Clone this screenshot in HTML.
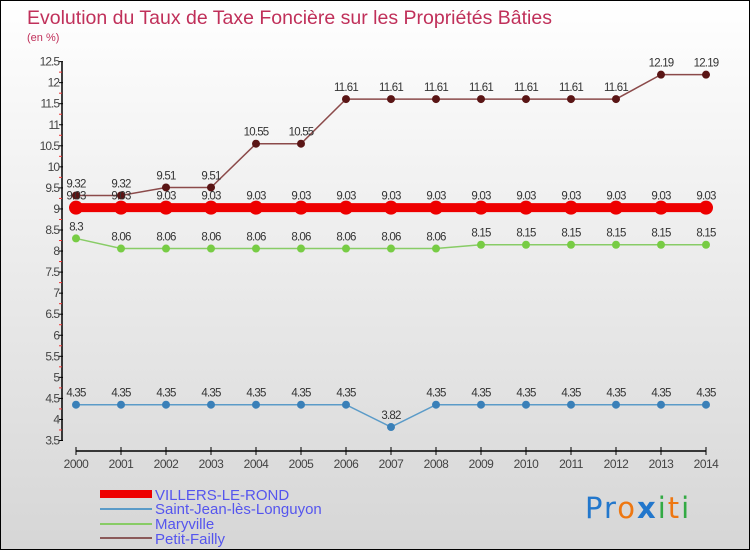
<!DOCTYPE html>
<html><head><meta charset="utf-8"><style>
html,body{margin:0;padding:0}
body{width:750px;height:550px;overflow:hidden;font-family:"Liberation Sans",sans-serif}
#wrap{position:relative;width:748px;height:548px;border:1px solid #000;background:linear-gradient(#ffffff,#d6d6d6)}
</style></head><body>
<div id="wrap">
<svg id="chart" width="748" height="548" style="position:absolute;left:0;top:0">
<text x="26" y="23" font-size="19.5" fill="#c0305a">Evolution du Taux de Taxe Foncière sur les Propriétés Bâties</text>
<text x="26" y="40" font-size="11" fill="#c0305a">(en %)</text>
<g id="axes"></g>
<g id="series"></g>
<g id="legend">
<rect x="99" y="489" width="52" height="8" fill="#ee0000"/>
<text x="154" y="499" font-size="15" fill="#5555ee">VILLERS-LE-ROND</text>
<line x1="99" y1="508" x2="151" y2="508" stroke="#5b9bc8" stroke-width="2"/>
<text x="154" y="513" font-size="15" fill="#5555ee">Saint-Jean-lès-Longuyon</text>
<line x1="99" y1="523" x2="151" y2="523" stroke="#88cc66" stroke-width="2"/>
<text x="154" y="528" font-size="15" fill="#5555ee">Maryville</text>
<line x1="99" y1="537" x2="151" y2="537" stroke="#8b5a5a" stroke-width="2"/>
<text x="154" y="543" font-size="15" fill="#5555ee">Petit-Failly</text>
</g>
<g font-size="29" font-family="DejaVu Sans, sans-serif" letter-spacing="2">
<text x="584" y="517"><tspan fill="#2277cc">Pr</tspan><tspan fill="#ee7711">o</tspan><tspan fill="#2277cc" font-weight="bold">x</tspan><tspan fill="#33aa44">i</tspan><tspan fill="#ee7711">t</tspan><tspan fill="#33aa44">i</tspan></text>
</g>
</svg>
</div>
<script>
const years=[2000,2001,2002,2003,2004,2005,2006,2007,2008,2009,2010,2011,2012,2013,2014];
const villers=[9.03,9.03,9.03,9.03,9.03,9.03,9.03,9.03,9.03,9.03,9.03,9.03,9.03,9.03,9.03];
const saintJean=[4.35,4.35,4.35,4.35,4.35,4.35,4.35,3.82,4.35,4.35,4.35,4.35,4.35,4.35,4.35];
const maryville=[8.3,8.06,8.06,8.06,8.06,8.06,8.06,8.06,8.06,8.15,8.15,8.15,8.15,8.15,8.15];
const petitFailly=[9.32,9.32,9.51,9.51,10.55,10.55,11.61,11.61,11.61,11.61,11.61,11.61,11.61,12.19,12.19];
const yTicks=[3.5,4,4.5,5,5.5,6,6.5,7,7.5,8,8.5,9,9.5,10,10.5,11,11.5,12,12.5];
const NS="http://www.w3.org/2000/svg";
function X(i){return 75+i*45;}
function Y(v){return 439.5-(v-3.5)*42.1;}
function mk(tag,attrs,parent){const e=document.createElementNS(NS,tag);for(const k in attrs)e.setAttribute(k,attrs[k]);parent.appendChild(e);return e;}
const axes=document.getElementById('axes');
const ax=mk('line',{x1:61,y1:Y(12.5),x2:61,y2:Y(3.5),stroke:'#000','stroke-width':1.5},axes);


yTicks.forEach(t=>{
  mk('line',{x1:58,y1:Y(t),x2:62,y2:Y(t),stroke:'#000'},axes);
  if(t<12.5) mk('line',{x1:58,y1:Y(t+0.25),x2:61,y2:Y(t+0.25),stroke:'#e33'},axes);
  const tx=mk('text',{x:58,y:Y(t)+4,'font-size':12,fill:'#444','text-anchor':'end','letter-spacing':'-1'},axes);
  tx.textContent=t;
  
  
});
const xa=mk('line',{x1:X(0),y1:450,x2:X(years.length-1),y2:450,stroke:'#000','stroke-width':1.5},axes);


years.forEach((y,i)=>{
  mk('line',{x1:X(i),y1:446,x2:X(i),y2:454,stroke:'#000'},axes);
  const tx=mk('text',{x:X(i),y:467,'font-size':12,fill:'#444','text-anchor':'middle','letter-spacing':'-0.5'},axes);
  tx.textContent=y;
  
  
});
const sg=document.getElementById('series');
function series(vals,name,color,dot,lw,r){
  const g=mk('g',{},sg);
  
  
  mk('polyline',{points:vals.map((v,i)=>X(i)+','+Y(v)).join(' '),fill:'none',stroke:color,'stroke-width':lw},g);
  vals.forEach((v,i)=>{
    const c=mk('circle',{cx:X(i),cy:Y(v),r:r,fill:dot},g);
    
    
    const t=mk('text',{x:X(i),y:Y(v)-8,'font-size':11.5,fill:'#333','text-anchor':'middle','letter-spacing':'-0.8'},g);
    t.textContent=v;
    
    
  });
}
series(saintJean,'saint-jean','#5b9bc8','#3a80b8',1.5,4);
series(maryville,'maryville','#88cc66','#77cc44',1.5,4);
series(petitFailly,'petit-failly','#8b4a4a','#5a1515',1.5,4);
series(villers,'villers','#ee0000','#ee0000',9,7);
</script>
</body></html>
